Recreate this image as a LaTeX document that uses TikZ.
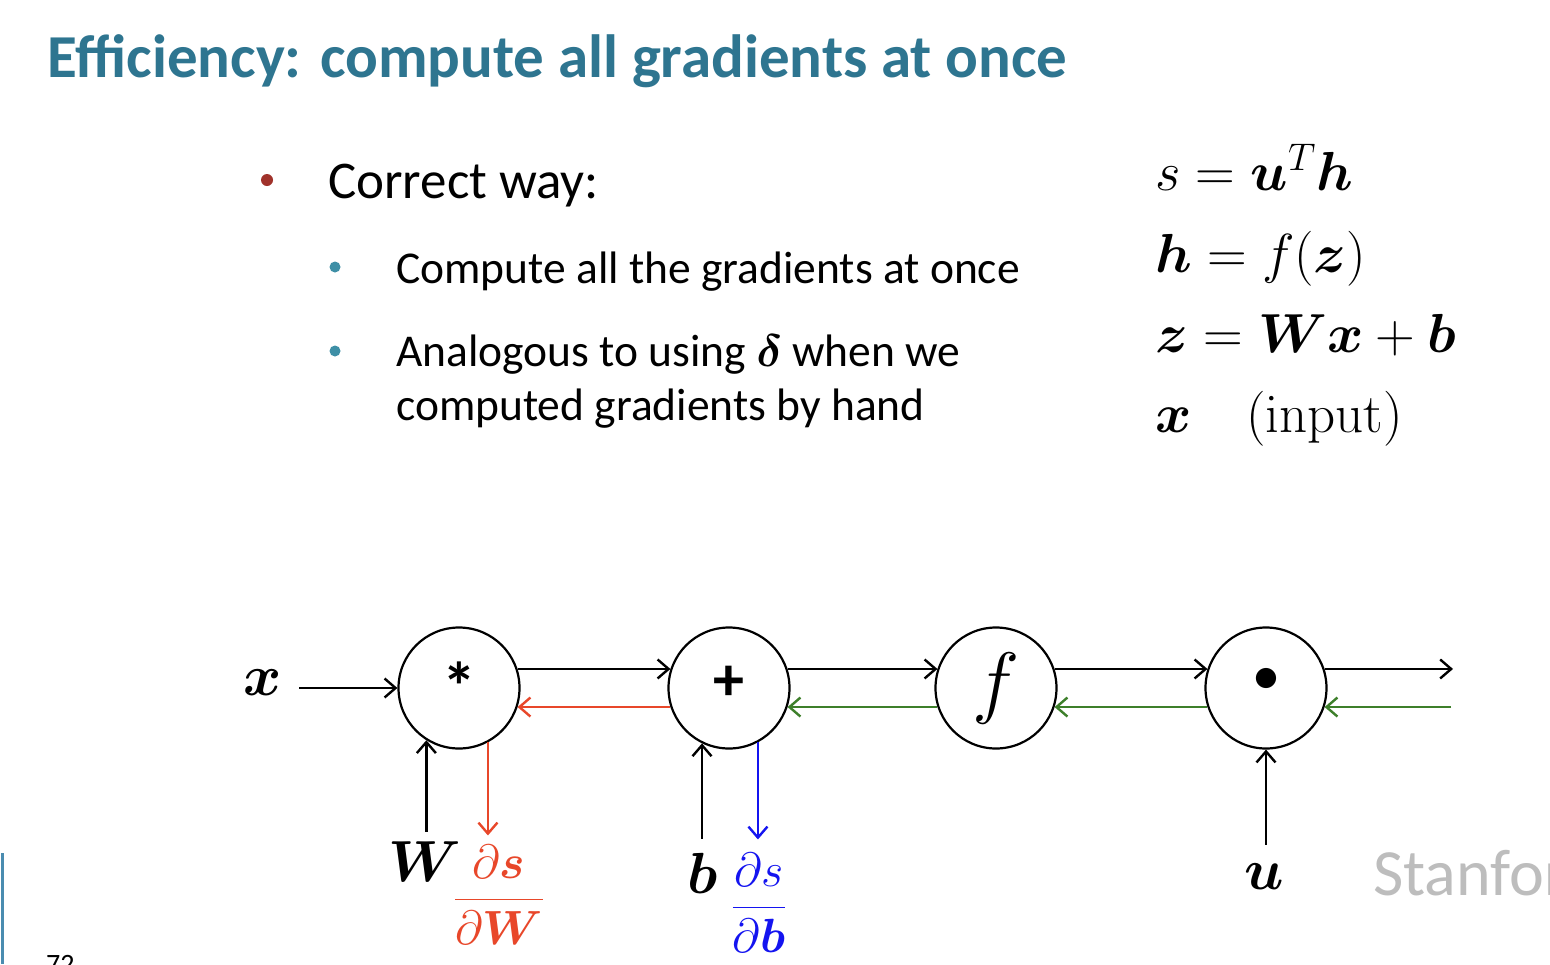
\RequirePackage{fix-cm}
\documentclass[tikz,border=0pt]{standalone}
\usepackage{amsmath}
\usepackage[no-math]{fontspec}
\setmainfont{Carlito}
\usepackage{bm}
\usetikzlibrary{arrows.meta}
\definecolor{slidetitle}{HTML}{2E7590}
\definecolor{bulletred}{HTML}{A0322B}
\definecolor{bulletteal}{HTML}{3E8FA6}
\definecolor{gradred}{HTML}{E8472A}
\definecolor{gradgreen}{HTML}{3D7F2A}
\definecolor{gradblue}{HTML}{1414F0}
\definecolor{wmgray}{HTML}{BDBDBD}
\definecolor{barblue}{HTML}{4A8CB0}
\newcommand{\fs}[1]{\fontsize{#1}{#1}\selectfont}

\begin{document}
\begin{tikzpicture}[x=1pt, y=-1pt,
  every node/.style={inner sep=0pt},
  gate/.style={draw, circle, line width=2.2pt, minimum size=121pt},
  arrow/.style={-{Straight Barb[length=11pt,width=19pt]}, line width=2.4pt},
  lbl/.style={font=\fs{58}},
  grad/.style={font=\fs{48}},
  item/.style={anchor=base west, font=\fs{45.5}},
  dotmark/.style={circle, minimum size=12pt}
]
\useasboundingbox (0,0) rectangle (1550,964);
\clip (0,0) rectangle (1550,964);
\fill[white] (0,0) rectangle (1550,964);

\node[anchor=base west, font=\fs{61}\bfseries, text=slidetitle] (title) at (47,77)
  {Efficiency: compute all gradients at once};

\node[dotmark, fill=bulletred] (b1) at (267,180) {};
\node[anchor=base west, font=\fs{53}] (correct) at (328,198) {Correct way:};
\node[dotmark, fill=bulletteal, minimum size=11pt] (b2) at (335,267) {};
\node[item] (all) at (396,283) {Compute all the gradients at once};
\node[dotmark, fill=bulletteal, minimum size=11pt] (b3) at (335,351) {};
\node[item] (anal1) at (396,366) {Analogous to using $\bm{\delta}$ when we};
\node[item] (anal2) at (396,420) {computed gradients by hand};

\node[anchor=base west, font=\fs{55}] (eqs) at (1155,190) {$s = \bm{u}^T\bm{h}$};
\node[anchor=base west, font=\fs{55}] (eqh) at (1155,272) {$\bm{h} = f(\bm{z})$};
\node[anchor=base west, font=\fs{55}] (eqz) at (1155,352) {$\bm{z} = \bm{W}\bm{x} + \bm{b}$};
\node[anchor=base west, font=\fs{55}] (eqx) at (1155,432) {$\bm{x}\quad(\mathrm{input})$};

\node[gate, font=\fs{68}\bfseries] (mul) at (459,688) {\smash{\raisebox{-22pt}{*}}};
\node[gate, font=\fs{62}\bfseries] (add) at (729,688) {\smash{\raisebox{-12pt}{+}}};
\node[gate, font=\fs{80}] (fun) at (996,688) {$f$};
\node[gate, font=\fs{52}] (dot) at (1266,688) {\smash{\raisebox{-3pt}{$\bullet$}}};

\node[lbl] (xlab) at (263,683) {$\bm{x}$};
\node[lbl] (Wlab) at (425,862) {$\bm{W}$};
\node[lbl] (blab) at (703,873) {$\bm{b}$};
\node[lbl] (ulab) at (1264,877) {$\bm{u}$};
\node[grad, text=gradred] (dW) at (499,895) {$\dfrac{\partial \bm{s}}{\partial \bm{W}}$};
\node[grad, text=gradblue] (db) at (759,903) {$\dfrac{\partial s}{\partial \bm{b}}$};

\coordinate (outF) at (1453,665);
\coordinate (outB) at (1451,706);

\draw[arrow] (xlab.east |- mul.west) ++(17,0) -- (mul.west);
\draw[arrow] (mul.18) -- (add.162);
\draw[arrow] (add.18) -- (fun.162);
\draw[arrow] (fun.18) -- (dot.162);
\draw[arrow] (dot.18) -- (dot.18 -| outF);
\draw[arrow, gradred] (add.198) -- (mul.-18);
\draw[arrow, gradgreen] (fun.198) -- (add.-18);
\draw[arrow, gradgreen] (dot.198) -- (fun.-18);
\draw[arrow, gradgreen] (outB |- dot.-18) -- (dot.-18);

\draw[arrow] (mul.-122 |- Wlab.north) ++(0,-10) -- (mul.-122);
\draw[arrow, gradred] (mul.-62) -- ([yshift=10pt]mul.-62 |- dW.north);
\draw[arrow] (add.-116 |- blab.north) ++(0,-14) -- (add.-116);
\draw[arrow, gradblue] (add.-62) -- ([yshift=14pt]add.-62 |- db.north);
\draw[arrow] (dot.south |- ulab.north) ++(0,-19) -- (dot.south);

\node[anchor=base west, font=\fs{66}, text=wmgray] (wm) at (1373,895) {Stanford};
\draw[line width=3pt, barblue] (2,853) -- (2,964);
\node[anchor=north west, font=\fs{28}] (pgno) at (46,955) {72};
\end{tikzpicture}
\end{document}
